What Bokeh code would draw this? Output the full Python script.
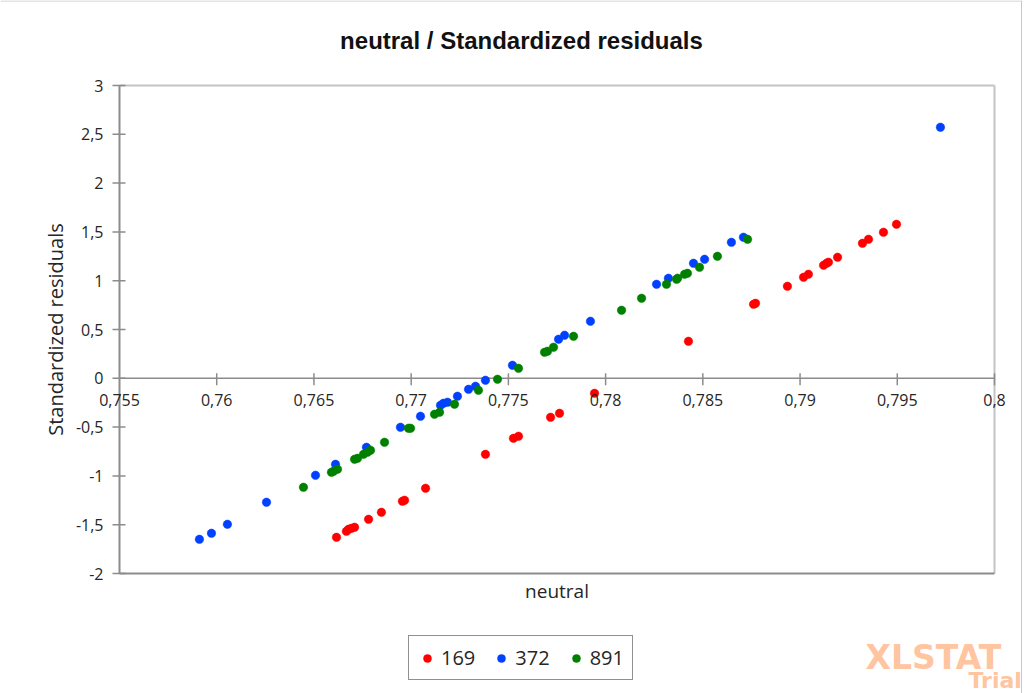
import math

from bokeh.plotting import figure
from bokeh.models import (Range1d, Legend, LegendItem, Label, LabelSet,
                          ColumnDataSource)
from bokeh.embed import file_html
from bokeh.resources import INLINE
from bokeh.core.properties import value

# ---- data -------------------------------------------------------------
x_169 = [0.76616, 0.76667, 0.76678, 0.76693, 0.76709, 0.76781, 0.76847,
         0.76955, 0.76966, 0.77074, 0.77382, 0.77526, 0.77552, 0.77717,
         0.77763, 0.77943, 0.78426, 0.78761, 0.78771, 0.78935, 0.79018,
         0.79043, 0.79121, 0.79136, 0.79146, 0.79193, 0.79321, 0.79352,
         0.79429, 0.79496]
y_169 = [-1.629, -1.568, -1.547, -1.537, -1.527, -1.445, -1.373, -1.260,
         -1.250, -1.127, -0.779, -0.615, -0.594, -0.400, -0.359, -0.154,
         0.379, 0.758, 0.768, 0.943, 1.035, 1.066, 1.158, 1.178, 1.189,
         1.240, 1.383, 1.424, 1.496, 1.578]

x_372 = [0.75911, 0.75973, 0.76055, 0.76256, 0.76508, 0.76611, 0.76770,
         0.76945, 0.77048, 0.77151, 0.77166, 0.77187, 0.77238, 0.77295,
         0.77331, 0.77382, 0.77521, 0.77758, 0.77789, 0.77922, 0.78262,
         0.78323, 0.78452, 0.78509, 0.78647, 0.78709, 0.79722]
y_372 = [-1.650, -1.588, -1.496, -1.270, -0.994, -0.881, -0.707, -0.502,
         -0.389, -0.277, -0.256, -0.246, -0.184, -0.113, -0.082, -0.020,
         0.133, 0.400, 0.441, 0.584, 0.963, 1.025, 1.178, 1.219, 1.393,
         1.445, 2.572]

x_891 = [0.76446, 0.76590, 0.76601, 0.76621, 0.76709, 0.76724, 0.76755,
         0.76775, 0.76791, 0.76863, 0.76986, 0.76997, 0.77120, 0.77146,
         0.77223, 0.77346, 0.77444, 0.77552, 0.77686, 0.77701, 0.77732,
         0.77835, 0.78082, 0.78185, 0.78313, 0.78365, 0.78370, 0.78406,
         0.78421, 0.78483, 0.78575, 0.78730]
y_891 = [-1.117, -0.963, -0.953, -0.932, -0.830, -0.820, -0.779, -0.758,
         -0.738, -0.656, -0.512, -0.512, -0.369, -0.348, -0.266, -0.123,
         -0.010, 0.102, 0.266, 0.277, 0.318, 0.430, 0.697, 0.820, 0.963,
         1.014, 1.025, 1.066, 1.076, 1.137, 1.250, 1.424]

series_names = ["169", "372", "891"]
series_colors = ["#FF0000", "#0040FF", "#008000"]

x_ticks = [0.755, 0.76, 0.765, 0.77, 0.775, 0.78, 0.785, 0.79, 0.795, 0.8]
x_tick_labels = ["0,755", "0,76", "0,765", "0,77", "0,775", "0,78",
                 "0,785", "0,79", "0,795", "0,8"]
y_ticks = [-2, -1.5, -1, -0.5, 0, 0.5, 1, 1.5, 2, 2.5, 3]
y_tick_labels = ["-2", "-1,5", "-1", "-0,5", "0", "0,5", "1", "1,5", "2",
                 "2,5", "3"]

title_text = "neutral / Standardized residuals"
x_title = "neutral"
y_title = "Standardized residuals"

# ---- layout (pixels) --------------------------------------------------
W, H = 1027, 693
PLOT_L, PLOT_R, PLOT_T, PLOT_B = 119, 994, 85, 573
CHART_R = 1021   # right edge of the chart box

FONT = "Open Sans"
TEXT_COLOR = "#262626"
AXIS_COLOR = "#8C8C8C"
FRAME_COLOR = "#C4C4C4"
BOX_COLOR = "#C8C8C8"
MARK_COLOR = "#FFC4A0"

x_min, x_max = x_ticks[0], x_ticks[-1]
y_min, y_max = y_ticks[0], y_ticks[-1]
dx = (x_max - x_min) / (PLOT_R - PLOT_L)   # data units per pixel
dy = (y_max - y_min) / (PLOT_B - PLOT_T)

# the drawing frame spans the whole canvas; ranges are chosen so that the
# plotting area lands on the chosen pixel box
x_lo, x_hi = x_min - PLOT_L * dx, x_max + (W - PLOT_R) * dx
y_lo, y_hi = y_min - (H - PLOT_B) * dy, y_max + PLOT_T * dy
p = figure(width=W, height=H, output_backend="svg",
           toolbar_location=None, tools="",
           x_range=Range1d(x_lo, x_hi), y_range=Range1d(y_lo, y_hi),
           x_axis_location=None, y_axis_location=None,
           min_border=0, outline_line_color=None,
           background_fill_color="white", border_fill_color="white")
p.grid.visible = False

# outer chart box (top and right edges are visible)
x_box = x_max + (CHART_R - PLOT_R) * dx
p.segment(x0=[x_lo, x_box], y0=[y_hi - 0.5 * dy, y_hi], x1=[x_box, x_box],
          y1=[y_hi - 0.5 * dy, y_lo], line_color=BOX_COLOR, line_width=1)

# plotting-area frame
p.segment(x0=[x_min, x_max], y0=[y_max, y_max], x1=[x_max, x_max],
          y1=[y_max, y_min], line_color=FRAME_COLOR, line_width=2)
p.segment(x0=[x_min, x_min], y0=[y_min, y_min], x1=[x_max, x_min],
          y1=[y_min, y_max], line_color=AXIS_COLOR, line_width=2)

# vertical axis ticks and labels
n_y = len(y_ticks)
p.segment(x0=[x_min - 7 * dx] * n_y, y0=y_ticks,
          x1=[x_min + 6 * dx] * n_y, y1=y_ticks,
          line_color=AXIS_COLOR, line_width=1.5)
ysrc = ColumnDataSource(dict(x=[x_min] * n_y, y=y_ticks, text=y_tick_labels))
p.add_layout(LabelSet(x="x", y="y", text="text", source=ysrc,
                      x_offset=-16, text_align="right",
                      text_baseline="middle", text_font=value(FONT),
                      text_font_size="16px", text_color=TEXT_COLOR))

# horizontal axis crossing at y = 0
n_x = len(x_ticks)
p.segment(x0=[x_min], y0=[0], x1=[x_max], y1=[0],
          line_color=AXIS_COLOR, line_width=1.5)
p.segment(x0=x_ticks[1:], y0=[-7 * dy] * (n_x - 1),
          x1=x_ticks[1:], y1=[5 * dy] * (n_x - 1),
          line_color=AXIS_COLOR, line_width=1.5)
xsrc = ColumnDataSource(dict(x=x_ticks, y=[0] * n_x, text=x_tick_labels))
p.add_layout(LabelSet(x="x", y="y", text="text", source=xsrc,
                      y_offset=-16, text_align="center", text_baseline="top",
                      text_font=value(FONT), text_font_size="16px",
                      text_color=TEXT_COLOR))

# titles
p.add_layout(Label(x=521, y=H - 40, x_units="screen", y_units="screen",
                   text=title_text, text_align="center",
                   text_baseline="middle", text_font="Liberation Sans",
                   text_font_style="bold", text_font_size="24px",
                   text_color="#111111"))
p.add_layout(Label(x=(PLOT_L + PLOT_R) / 2, y=H - 590, x_units="screen",
                   y_units="screen", text=x_title, text_align="center",
                   text_baseline="middle", text_font=FONT,
                   text_font_size="19px", text_color=TEXT_COLOR))
p.add_layout(Label(x=55, y=H - (PLOT_T + PLOT_B) / 2, x_units="screen",
                   y_units="screen", text=y_title, angle=math.pi / 2,
                   text_align="center", text_baseline="middle",
                   text_font=FONT, text_font_size="20px",
                   text_color=TEXT_COLOR))

# scatter series
renderers = []
for xs, ys, color in zip([x_169, x_372, x_891], [y_169, y_372, y_891],
                         series_colors):
    r = p.scatter(xs, ys, size=8.5, fill_color=color, line_color=color,
                  line_width=0.5)
    renderers.append(r)

legend = Legend(items=[LegendItem(label=n, renderers=[r])
                       for n, r in zip(series_names, renderers)],
                orientation="horizontal", location=(408, H - 680),
                border_line_color="#222222", border_line_width=1.2,
                background_fill_color="white", background_fill_alpha=1,
                padding=8, spacing=16, margin=0, label_standoff=4,
                glyph_width=20, glyph_height=20,
                label_text_font=FONT, label_text_font_size="20px",
                label_text_color=TEXT_COLOR, label_text_baseline="middle")
p.add_layout(legend)

# watermark
p.add_layout(Label(x=865, y=H - 657, x_units="screen", y_units="screen",
                   text="XLSTAT", text_font="DejaVu Sans",
                   text_font_style="bold", text_font_size="33px",
                   text_color=MARK_COLOR, text_baseline="alphabetic"))
p.add_layout(Label(x=968, y=H - 680, x_units="screen", y_units="screen",
                   text="Trial", text_font="DejaVu Sans",
                   text_font_style="bold", text_font_size="22px",
                   text_color=MARK_COLOR, text_baseline="alphabetic"))

open("out.html", "w").write(file_html(p, INLINE))
